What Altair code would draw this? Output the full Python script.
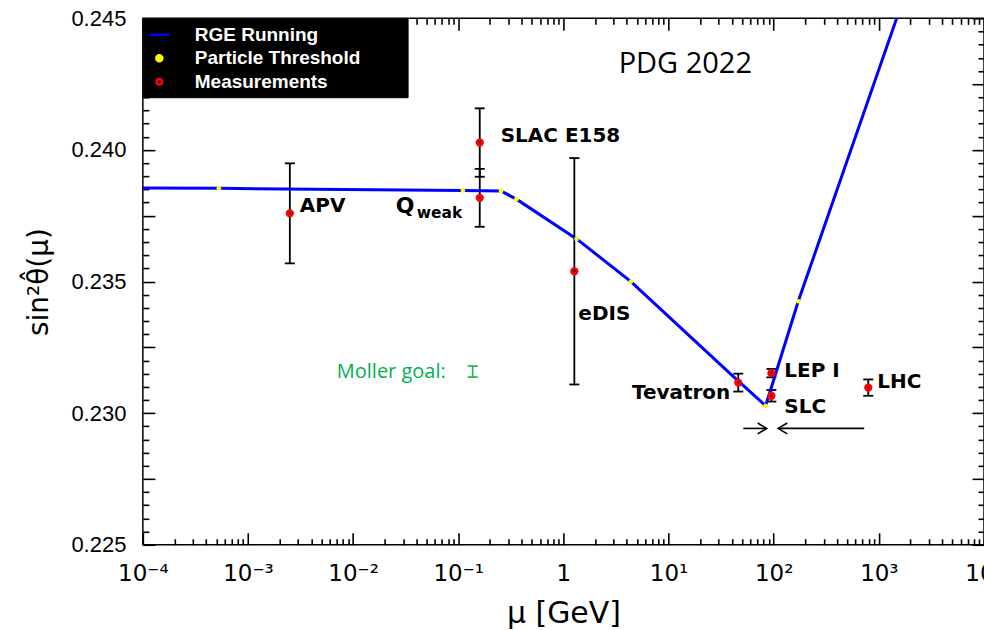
import altair as alt
import numpy as np
import pandas as pd

# --- RGE running of sin^2(theta_W) in the MS-bar scheme (threshold kinks marked) ---
rge_mu = [1e-4, 5.28e-4, 0.1106, 0.2547, 0.357, 1.335, 4.385, 40.9, 83.8, 171.2, 1477.0]
rge_s2w = [0.23855, 0.23854, 0.23846, 0.23844, 0.23813, 0.23662, 0.2350,
           0.23141, 0.23028, 0.23425, 0.2450]
rge_threshold = [False, True, True, True, True, True, True, False, True, True, False]

# --- measurements ---
meas_names = ["APV", "Qweak", "SLAC E158", "eDIS", "Tevatron", "LEP I", "SLC", "LHC"]
meas_mu = [0.0025, 0.16, 0.16, 1.27, 46.0, 95.0, 95.0, 793.0]
meas_s2w = [0.23759, 0.23818, 0.24028, 0.23539, 0.23116, 0.23152, 0.23066, 0.23097]
meas_err = [0.0019, 0.0011, 0.0013, 0.0043, 0.00034, 0.00016, 0.00022, 0.00031]

# --- projected MOLLER precision ---
moller_mu = [0.137]
moller_s2w = [0.23158]
moller_err = [0.00021]

# --- arrows below the Z pole ---
arrow_from = [51.4, 726.0]
arrow_to = [85.7, 110.4]
arrow_s2w = [0.22942, 0.22942]

legend_names = ["RGE Running", "Particle Threshold", "Measurements"]

x_major = [10.0 ** k for k in range(-4, 5)]
x_tick_labels = ["10⁻⁴", "10⁻³", "10⁻²", "10⁻¹", "1", "10¹", "10²", "10³", "10⁴"]
x_tick_values = [m * 10.0 ** k for k in range(-4, 4) for m in range(1, 10)] + [1e4]
y_label_values = [0.225, 0.230, 0.235, 0.240, 0.245]
y_tick_values = [round(v, 4) for v in np.arange(0.225, 0.24501, 0.0005)]

W, H = 842, 527

rge = pd.DataFrame({"mu": rge_mu, "s2w": rge_s2w, "threshold": rge_threshold})
meas = pd.DataFrame({"name": meas_names, "mu": meas_mu, "s2w": meas_s2w, "err": meas_err})
meas["lo"] = meas["s2w"] - meas["err"]
meas["hi"] = meas["s2w"] + meas["err"]
moller = pd.DataFrame({"mu": moller_mu, "s2w": moller_s2w, "err": moller_err})
moller["lo"] = moller["s2w"] - moller["err"]
moller["hi"] = moller["s2w"] + moller["err"]
arrows = pd.DataFrame({"x0": arrow_from, "x1": arrow_to, "s2w": arrow_s2w})
arrows["head_angle"] = [0 if b > a else 180 for a, b in zip(arrow_from, arrow_to)]

xs = alt.Scale(type="log", domain=[1e-4, 1e4], nice=False)
ys = alt.Scale(domain=[0.225, 0.245], zero=False, nice=False)

x_major_test = "abs(log(datum.value)/LN10 - round(log(datum.value)/LN10)) < 0.001"
y_major_test = "abs(datum.value*400 - round(datum.value*400)) < 0.001"


def tick_axis(orient, offset, values, test):
    # inward-pointing ticks: an axis of the opposite side pushed across the plot
    return alt.Axis(orient=orient, offset=offset, values=values, labels=False,
                    domain=False, grid=False, ticks=True, tickColor="black",
                    tickWidth=1.6,
                    tickSize={"condition": {"test": test, "value": 12}, "value": 6},
                    title=None)


x_label_expr = "[" + ",".join("'%s'" % s for s in x_tick_labels) + "][round(log(datum.value)/LN10)+4]"

x_label_axis = alt.Axis(orient="bottom", values=x_major, labelExpr=x_label_expr,
                        ticks=False, domain=False, grid=False, labelFlush=False,
                        labelOverlap=False, labelFont="DejaVu Sans", labelFontSize=23,
                        labelColor="black", labelPadding=18,
                        title="μ [GeV]", titleFont="DejaVu Sans", titleFontSize=30,
                        titleFontWeight="normal", titleColor="black", titlePadding=13)
y_label_axis = alt.Axis(orient="left", values=y_label_values, format=".3f",
                        ticks=False, domain=False, grid=False, labelFlush=False,
                        labelOverlap=False, labelFont="Liberation Sans", labelFontSize=22,
                        labelColor="black", labelPadding=17,
                        title="sin²θ̂(μ)", titleFont="DejaVu Sans", titleFontSize=28,
                        titleFontWeight="normal", titleColor="black", titlePadding=17)


def X(field, axis=None):
    return alt.X(field, type="quantitative", scale=xs, axis=axis)


def Y(field, axis=None):
    return alt.Y(field, type="quantitative", scale=ys, axis=axis)


# error bars (vertical rule + caps)
err_rule = alt.Chart(meas).mark_rule(color="black", strokeWidth=1.8).encode(
    x=X("mu"), y=Y("lo"), y2="hi:Q")
err_caps = alt.Chart(meas).transform_fold(["lo", "hi"], as_=["end", "v"]).mark_tick(
    orient="horizontal", color="black", size=10, thickness=1.8, opacity=1).encode(
    x=X("mu"), y=Y("v"))

moller_rule = alt.Chart(moller).mark_rule(color="#2db85a", strokeWidth=1.8).encode(
    x=X("mu"), y=Y("lo"), y2="hi:Q")
moller_caps = alt.Chart(moller).transform_fold(["lo", "hi"], as_=["end", "v"]).mark_tick(
    orient="horizontal", color="#2db85a", size=10, thickness=1.8, opacity=1).encode(
    x=X("mu"), y=Y("v"))
moller_text = alt.Chart(moller).mark_text(
    text="Moller goal:", align="right", baseline="middle", dx=-27, dy=0,
    font="Open Sans", fontSize=20, color="#00b050").encode(x=X("mu"), y=Y("s2w"))

# running curve
line = alt.Chart(rge).mark_line(color="#0000ff", strokeWidth=3, clip=True).encode(
    x=X("mu", x_label_axis), y=Y("s2w", y_label_axis))
thresholds = alt.Chart(rge).transform_filter("datum.threshold").mark_point(
    filled=True, color="#ffff00", size=22, opacity=1).encode(
    x=X("mu", tick_axis("top", -H, x_tick_values, x_major_test)),
    y=Y("s2w", tick_axis("right", -W, y_tick_values, y_major_test)))

points = alt.Chart(meas).mark_point(
    filled=True, fill="black", stroke="#ff0000", strokeWidth=3, size=28, opacity=1).encode(
    x=X("mu", tick_axis("bottom", -H, x_tick_values, x_major_test)),
    y=Y("s2w", tick_axis("left", -W, y_tick_values, y_major_test)))

# measurement labels: (point, text, dx, dy, align, size)
annotations = [
    ("APV", "APV", 10, -7, "left", 20),
    ("Qweak", "Q", -84, 8, "left", 22),
    ("Qweak", "weak", -63, 15, "left", 15.5),
    ("SLAC E158", "SLAC E158", 21, -7, "left", 20),
    ("eDIS", "eDIS", 4, 43, "left", 20),
    ("Tevatron", "Tevatron", -8, 10, "right", 20),
    ("LEP I", "LEP I", 13, -2, "left", 20),
    ("SLC", "SLC", 13, 11, "left", 20),
    ("LHC", "LHC", 9, -6, "left", 20),
]
label_layers = []
for name, txt, dx, dy, align, size in annotations:
    label_layers.append(
        alt.Chart(meas).transform_filter(alt.datum.name == name).mark_text(
            text=txt, align=align, baseline="middle", dx=dx, dy=dy,
            font="DejaVu Sans", fontWeight="bold", fontSize=size, color="black").encode(
            x=X("mu"), y=Y("s2w")))

arrow_lines = alt.Chart(arrows).mark_rule(color="black", strokeWidth=1.6).encode(
    x=X("x0"), x2="x1:Q", y=Y("s2w"))
arrow_heads = alt.Chart(arrows).mark_point(
    shape="M -1.5 -0.9 L 0 0 L -1.5 0.9", filled=False, color="black",
    strokeWidth=1.6, size=144, opacity=1).encode(
    x=X("x1"), y=Y("s2w"), angle=alt.Angle("head_angle:Q", scale=None))

pdg = alt.Chart(pd.DataFrame({"label": ["PDG 2022"]})).mark_text(
    align="center", baseline="middle", font="Open Sans", fontSize=29,
    color="black").encode(x=alt.value(543), y=alt.value(46), text="label:N")

# legend carried by an empty point layer; blank braille cells widen the box
legend_df = pd.DataFrame({"series": legend_names})
leg = alt.Legend(orient="top-left", offset=0, padding=5, fillColor="black",
                 strokeColor="black", labelColor="white", labelFont="Liberation Sans",
                 labelFontWeight="bold", labelFontSize=19, labelOffset=24,
                 labelLimit=400, rowPadding=3.5, symbolStrokeWidth=2.5,
                 symbolOpacity=1, title=None,
                 labelExpr="datum.label + '" + "\u2800" * 3 + "'")
legend_layer = alt.Chart(legend_df).transform_filter("false").mark_point(opacity=1).encode(
    shape=alt.Shape("series:N", scale=alt.Scale(domain=legend_names,
                    range=["stroke", "circle", "circle"]), legend=leg),
    stroke=alt.Stroke("series:N", scale=alt.Scale(domain=legend_names,
                      range=["#0000ff", "#ffff00", "#ff0000"]), legend=leg),
    fill=alt.Fill("series:N", scale=alt.Scale(domain=legend_names,
                  range=["#0000ff", "#ffff00", "#000000"]), legend=leg),
    size=alt.Size("series:N", scale=alt.Scale(type="ordinal", domain=legend_names,
                  range=[400, 36, 30]), legend=leg),
)

chart = alt.layer(
    err_rule, err_caps, moller_rule, moller_caps, moller_text,
    line, thresholds, points, arrow_lines, arrow_heads, pdg,
    *label_layers, legend_layer,
).resolve_axis(x="independent", y="independent").properties(
    width=W, height=H,
    autosize=alt.AutoSizeParams(type="none"),
    padding={"left": 143, "top": 18, "right": 0, "bottom": 630 - 18 - H},
    background="white",
).configure_view(stroke="black", strokeWidth=1.5)

chart.save("out.html", embed_options={"renderer": "svg", "actions": False})
